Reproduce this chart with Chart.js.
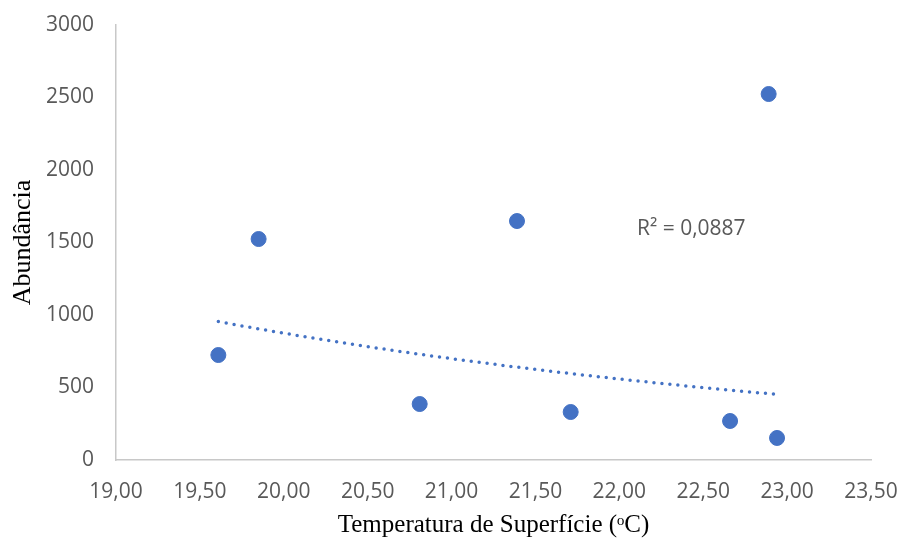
<!DOCTYPE html>
<html>
<head>
<meta charset="utf-8">
<script src="https://cdn.jsdelivr.net/npm/chart.js@4"></script>
<style>
  html, body { margin: 0; padding: 0; background: #fff; }
  #wrap { width: 901px; height: 541px; }
</style>
</head>
<body>
<div id="wrap"><canvas id="abundChart" width="901" height="541"></canvas></div>
<script>
// temperatura (ºC) e abundância
const temps = [19.61, 19.85, 20.81, 21.39, 21.71, 22.66, 22.89, 22.94];
const abund = [724, 1524, 386, 1648, 331, 269, 2524, 152];
const r2Label = 'R² = 0,0887';

// linha de tendência exponencial (ajuste y = a·e^(bx), como no Excel)
function expFit(xs, ys) {
    const n = xs.length;
    const ly = ys.map(v => Math.log(v));
    const mx = xs.reduce((s, v) => s + v, 0) / n;
    const my = ly.reduce((s, v) => s + v, 0) / n;
    let sxy = 0, sxx = 0;
    for (let i = 0; i < n; i++) {
        sxy += (xs[i] - mx) * (ly[i] - my);
        sxx += (xs[i] - mx) * (xs[i] - mx);
    }
    const b = sxy / sxx;
    const a = Math.exp(my - b * mx);
    return x => a * Math.exp(b * x);
}
const fit = expFit(temps, abund);
const xMin = Math.min(...temps), xMax = Math.max(...temps);
const trend = [];
for (let i = 0; i <= 40; i++) {
    const x = xMin + (xMax - xMin) * i / 40;
    trend.push({ x: x, y: fit(x) });
}

const r2Plugin = {
    id: 'r2text',
    afterDatasetsDraw(chart) {
        const c = chart.ctx;
        c.save();
        c.font = '21px "Open Sans"';
        c.fillStyle = '#595959';
        c.textBaseline = 'middle';
        c.fillText(r2Label, chart.scales.x.getPixelForValue(22.105), chart.scales.y.getPixelForValue(1590));
        c.restore();
    }
};

const ctx = document.getElementById('abundChart').getContext('2d');
const abundChart = new Chart(ctx, {
    type: 'scatter',
    data: {
        datasets: [{
            label: 'Abundância',
            data: temps.map((t, i) => ({ x: t, y: abund[i] })),
            backgroundColor: '#4472C4',
            borderColor: '#4472C4',
            pointRadius: 7.5,
            pointHoverRadius: 7.5,
            order: 1
        }, {
            label: 'Tendência',
            type: 'line',
            data: trend,
            borderColor: '#4472C4',
            borderWidth: 3.5,
            borderDash: [0, 8],
            borderCapStyle: 'round',
            pointRadius: 0,
            fill: false,
            order: 2
        }]
    },
    options: {
        responsive: false,
        animation: false,
        layout: { padding: { top: 25, right: 30, left: 0, bottom: 0 } },
        plugins: {
            legend: { display: false },
            tooltip: { enabled: false }
        },
        scales: {
            x: {
                type: 'linear',
                min: 19,
                max: 23.5,
                grid: { display: false, drawTicks: false },
                border: { display: true, color: '#c8c8c8', width: 1.5 },
                ticks: {
                    stepSize: 0.5,
                    padding: 19,
                    color: '#595959',
                    font: { family: 'Open Sans', size: 21 },
                    callback: v => v.toFixed(2).replace('.', ',')
                },
                title: {
                    display: true,
                    text: 'Temperatura de Superfície (ᵒC)',
                    color: '#000',
                    font: { family: 'Liberation Serif', size: 25 },
                    padding: { top: 0, bottom: 1 }
                },
                afterFit: s => {
                    s.height = 81;
                    s.paddingLeft = 0;
                    s.paddingRight = 0;
                }
            },
            y: {
                min: 0,
                max: 3000,
                grid: { display: false, drawTicks: false },
                border: { display: true, color: '#c8c8c8', width: 1.5 },
                ticks: {
                    stepSize: 500,
                    padding: 22,
                    color: '#595959',
                    font: { family: 'Open Sans', size: 21 },
                    callback: v => String(v)
                },
                title: {
                    display: true,
                    text: 'Abundância',
                    color: '#000',
                    font: { family: 'Liberation Serif', size: 26 },
                    padding: { top: 8, bottom: 0 }
                },
                afterFit: s => {
                    s.width = 116;
                    s.paddingTop = 0;
                    s.paddingBottom = 0;
                }
            }
        }
    },
    plugins: [r2Plugin]
});
</script>
</body>
</html>
